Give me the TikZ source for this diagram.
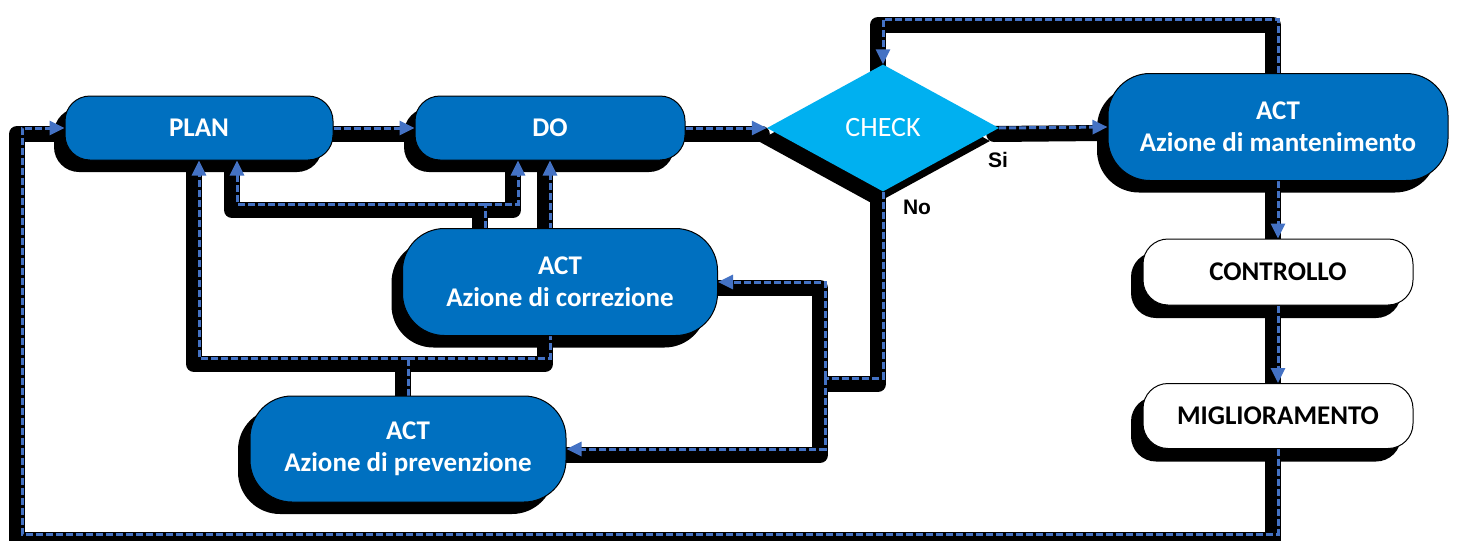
\documentclass[tikz,border=0pt]{standalone}
\usepackage{fontspec}
\setmainfont{Carlito}
\newfontfamily\labelfont{Liberation Sans}
\usetikzlibrary{shapes.geometric,arrows.meta,calc}

\pgfdeclarelayer{nodeshade}
\pgfdeclarelayer{linkshade}
\pgfdeclarelayer{linkdash}
\pgfsetlayers{nodeshade,linkshade,linkdash,main}

\definecolor{actblue}{HTML}{0070C0}
\definecolor{checkcyan}{HTML}{00B0F0}
\definecolor{flowblue}{HTML}{4472C4}

\tikzset{
  sz/.style 2 args={minimum width=#1pt, minimum height=#2pt},
  box/.style={rounded corners=#1, draw=black, line width=1pt, inner sep=0pt,
    align=center, font=\fontsize{27}{32}\selectfont\bfseries},
  bluebox/.style={box=#1, fill=actblue, text=white},
  whitebox/.style={box=#1, fill=white, text=black},
  boxshade/.style={rounded corners=#1, fill=black, draw=none, inner sep=0pt},
  diamondbox/.style={diamond, inner sep=0pt, sz={232}{127}},
  flowplain/.style={draw=flowblue, line width=3pt, dash pattern=on 7pt off 3pt},
  flowdash/.style={flowplain, -{Triangle[length=15pt,width=14pt]}},
  flowshade/.style={draw=black, line width=16pt, line cap=round, line join=round},
  flowlabel/.style={inner sep=0pt, font=\labelfont\fontsize{21}{24}\selectfont\bfseries},
}

% every connector: a thick black shade below, a dashed blue line on top
\newcommand\flowlink[2][flowdash]{%
  \begin{pgfonlayer}{linkshade}
    \begin{scope}[transform canvas={shift={(-5pt,-6pt)}}]
      \draw[flowshade] #2;
    \end{scope}
  \end{pgfonlayer}
  \begin{pgfonlayer}{linkdash}
    \draw[#1] #2;
  \end{pgfonlayer}}

\begin{document}
\begin{tikzpicture}[x=1pt,y=-1pt]
  \useasboundingbox (0,0) rectangle (1457,541);
  \begin{pgfonlayer}{nodeshade}
    \fill[white] (0,0) rectangle (1457,541);
  \end{pgfonlayer}

  % boxes
  \node[bluebox=25pt, sz={268}{64}] (plan) at (199,128) {PLAN};
  \node[bluebox=25pt, sz={270}{64}] (do) at (550,128) {DO};
  \node[diamondbox, fill=checkcyan, text=white,
        font=\fontsize{28}{32}\selectfont] (check) at (883,128) {CHECK};
  \node[bluebox=42pt, sz={340}{107}] (maint) at (1278,127)
       {ACT\\Azione di mantenimento};
  \node[whitebox=25pt, sz={270}{66}] (ctrl) at (1278,272) {CONTROLLO};
  \node[whitebox=25pt, sz={270}{65}] (migl) at (1278,416) {MIGLIORAMENTO};
  \node[bluebox=42pt, sz={315}{107}] (corr) at (560,282)
       {ACT\\Azione di correzione};
  \node[bluebox=42pt, sz={316}{106}] (prev) at (408,449)
       {ACT\\Azione di prevenzione};

  % drop shades of the boxes
  \begin{pgfonlayer}{nodeshade}
    \node[boxshade=25pt, sz={268}{64}] (plan-sh) at ($(plan)+(-11,12)$) {};
    \node[boxshade=25pt, sz={270}{64}] (do-sh) at ($(do)+(-11,12)$) {};
    \node[diamondbox, fill=black] (check-sh) at ($(check)+(-9,13)$) {};
    \node[boxshade=42pt, sz={340}{107}] (maint-sh) at ($(maint)+(-11,12)$) {};
    \node[boxshade=25pt, sz={270}{66}] (ctrl-sh) at ($(ctrl)+(-12,13)$) {};
    \node[boxshade=25pt, sz={270}{65}] (migl-sh) at ($(migl)+(-12,13)$) {};
    \node[boxshade=42pt, sz={315}{107}] (corr-sh) at ($(corr)+(-11,12)$) {};
    \node[boxshade=42pt, sz={316}{106}] (prev-sh) at ($(prev)+(-12,12)$) {};
  \end{pgfonlayer}

  % branch points
  \coordinate (lb) at (22,534);
  \coordinate (tp) at (1000,19);
  \coordinate (nj) at (825,378);
  \coordinate (cj) at (485,204);
  \coordinate (pj) at (408,358);

  % main chain
  \flowlink{(plan.east) -- (do.west)}
  \flowlink{(do.east) -- (check.west)}
  \flowlink{(check.east) -- (maint.west)}
  \flowlink{(maint.south) -- (ctrl.north)}
  \flowlink{(ctrl.south) -- (migl.north)}
  \flowlink{(migl.south) |- (lb) |- (plan.west)}
  \flowlink{(maint.north) |- (tp) -| (check.north)}

  % "No" branch
  \flowlink[flowplain]{(check.south) |- (nj)}
  \flowlink{(nj) |- (corr.east)}
  \flowlink{(nj) |- (prev.east)}

  % corrective action feedback
  \flowlink[flowplain]{(corr.north -| cj) -- (cj)}
  \flowlink{(cj) -| ([xshift=38pt]plan.south)}
  \flowlink{(cj) -| ([xshift=-32pt]do.south)}

  % preventive action feedback
  \flowlink[flowplain]{(prev.north) -- (pj)}
  \flowlink{(pj) -| (plan.south)}
  \flowlink{(pj) -| (do.south)}

  % decision labels
  \node[flowlabel] (si) at (998,160) {Si};
  \node[flowlabel] (no) at (917,207) {No};
\end{tikzpicture}
\end{document}
